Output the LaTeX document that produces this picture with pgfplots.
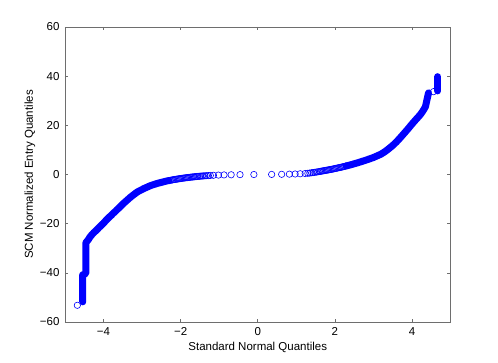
\documentclass[border=0pt]{standalone}
\usepackage{fontspec}
\setmainfont{Liberation Sans}
\usepackage{pgfplots}
\pgfplotsset{compat=1.18}

\definecolor{qqblue}{RGB}{0,0,255}
\definecolor{axgray}{RGB}{110,110,110}

% left tail: the dense part drawn as a band
\pgfplotstableread{
x y
-4.54 -51.8
-4.54 -50.4
-4.54 -49.0
-4.54 -47.6
-4.54 -46.2
-4.54 -44.8
-4.54 -43.4
-4.54 -42.0
-4.54 -40.8
-4.50 -40.6
-4.46 -40.2
-4.46 -38.8
-4.46 -37.4
-4.46 -36.0
-4.46 -34.6
-4.46 -33.2
-4.46 -31.8
-4.46 -30.4
-4.46 -29.0
-4.46 -27.8
-4.40 -26.6
-4.35 -25.4
-4.31 -24.6
-4.25 -23.6
-4.18 -22.6
-4.12 -21.6
-4.06 -20.7
-4.00 -19.8
-3.95 -18.9
-3.90 -18.1
-3.85 -17.3
-3.80 -16.6
-3.75 -15.8
-3.70 -15.1
-3.65 -14.3
-3.60 -13.6
-3.55 -12.8
-3.50 -12.0
-3.45 -11.3
-3.40 -10.6
-3.35 -9.9
-3.30 -9.2
-3.25 -8.6
-3.20 -8.0
-3.15 -7.4
-3.10 -6.9
-3.05 -6.5
-3.00 -6.1
-2.95 -5.7
-2.90 -5.35
-2.85 -5.0
-2.80 -4.65
-2.75 -4.35
-2.70 -4.1
-2.65 -3.85
-2.60 -3.6
-2.55 -3.4
-2.50 -3.2
-2.45 -3.0
-2.40 -2.8
-2.35 -2.6
-2.30 -2.45
}\lefttail

% middle part: single circles
\pgfplotstableread{
x y
-4.68 -53.2
-2.27 -2.36
-2.24 -2.27
-2.21 -2.18
-2.18 -2.10
-2.15 -2.02
-2.12 -1.94
-2.09 -1.86
-2.06 -1.78
-2.03 -1.71
-2.00 -1.64
-1.97 -1.57
-1.94 -1.50
-1.91 -1.43
-1.88 -1.37
-1.85 -1.31
-1.82 -1.25
-1.79 -1.19
-1.76 -1.13
-1.73 -1.07
-1.70 -1.02
-1.67 -0.97
-1.64 -0.92
-1.61 -0.87
-1.58 -0.82
-1.55 -0.77
-1.515 -0.72
-1.48 -0.67
-1.445 -0.62
-1.41 -0.58
-1.37 -0.53
-1.33 -0.49
-1.28 -0.44
-1.23 -0.39
-1.15 -0.32
-1.02 -0.24
-0.875 -0.17
-0.69 -0.11
-0.46 -0.06
-0.10 -0.01
0.36 0.03
0.62 0.08
0.82 0.14
0.97 0.21
1.10 0.30
1.23 0.40
1.30 0.50
1.35 0.60
1.40 0.71
1.44 0.80
1.48 0.90
1.52 1.00
1.56 1.10
1.60 1.22
1.63 1.30
1.66 1.39
1.69 1.47
1.72 1.56
1.75 1.64
1.78 1.73
1.81 1.81
1.84 1.90
1.87 1.98
1.90 2.07
1.93 2.17
1.96 2.27
1.99 2.37
2.02 2.47
2.05 2.57
2.08 2.68
2.11 2.78
2.14 2.89
2.17 2.99
2.20 3.10
2.23 3.22
2.26 3.34
2.29 3.46
4.56 33.7
}\middle

% right tail
\pgfplotstableread{
x y
2.30 3.50
2.35 3.70
2.40 3.90
2.45 4.12
2.50 4.35
2.55 4.57
2.60 4.80
2.65 5.05
2.70 5.30
2.75 5.55
2.80 5.80
2.85 6.07
2.90 6.35
2.95 6.62
3.00 6.90
3.05 7.25
3.10 7.60
3.15 7.95
3.20 8.30
3.25 8.80
3.30 9.30
3.35 9.90
3.40 10.5
3.45 11.15
3.50 11.8
3.55 12.55
3.60 13.3
3.65 14.15
3.70 15.0
3.75 15.9
3.80 16.8
3.85 17.7
3.90 18.6
3.95 19.55
4.00 20.5
4.05 21.4
4.10 22.3
4.17 23.5
4.22 24.4
4.27 25.5
4.31 26.5
4.35 27.6
4.37 29.0
4.39 30.4
4.41 31.8
4.43 33.2
}\righttail

\pgfplotstableread{
x y
4.67 34.0
4.67 35.2
4.67 36.4
4.67 37.6
4.67 38.8
4.67 39.8
}\rightbar

\begin{document}
\begin{tikzpicture}
\path[use as bounding box] (-65pt,-40pt) rectangle (433pt,322pt);
\begin{axis}[
  scale only axis,
  width=385.5pt, height=295pt,
  xmin=-5, xmax=5, ymin=-60, ymax=60,
  xtick={-4,-2,0,2,4},
  xticklabels={−4,−2,0,2,4},
  ytick={-60,-40,-20,0,20,40,60},
  yticklabels={−60,−40,−20,0,20,40,60},
  tick align=inside,
  major tick length=3.5pt,
  axis line style={axgray, line width=0.6pt},
  every tick/.style={axgray, line width=0.6pt},
  tick label style={font=\fontsize{11.5}{13}\selectfont, black},
  xticklabel style={yshift=-2pt},
  yticklabel style={xshift=-2pt},
  label style={font=\fontsize{11.5}{13}\selectfont},
  xlabel={Standard Normal Quantiles},
  ylabel={SCM Normalized Entry Quantiles},
  xlabel style={at={(axis description cs:0.5,-0.0847)}, anchor=center},
  ylabel style={at={(axis description cs:-0.0908,0.5)}, anchor=center},
]
\addplot[qqblue, line width=7pt, line cap=round, line join=round] table {\lefttail};
\addplot[qqblue, line width=7pt, line cap=round, line join=round] table {\righttail};
\addplot[qqblue, line width=7pt, line cap=round, line join=round] table {\rightbar};
\addplot[only marks, mark=o, mark size=3.2pt, mark options={qqblue, line width=0.6pt}] table {\middle};
\end{axis}
\end{tikzpicture}
\end{document}
